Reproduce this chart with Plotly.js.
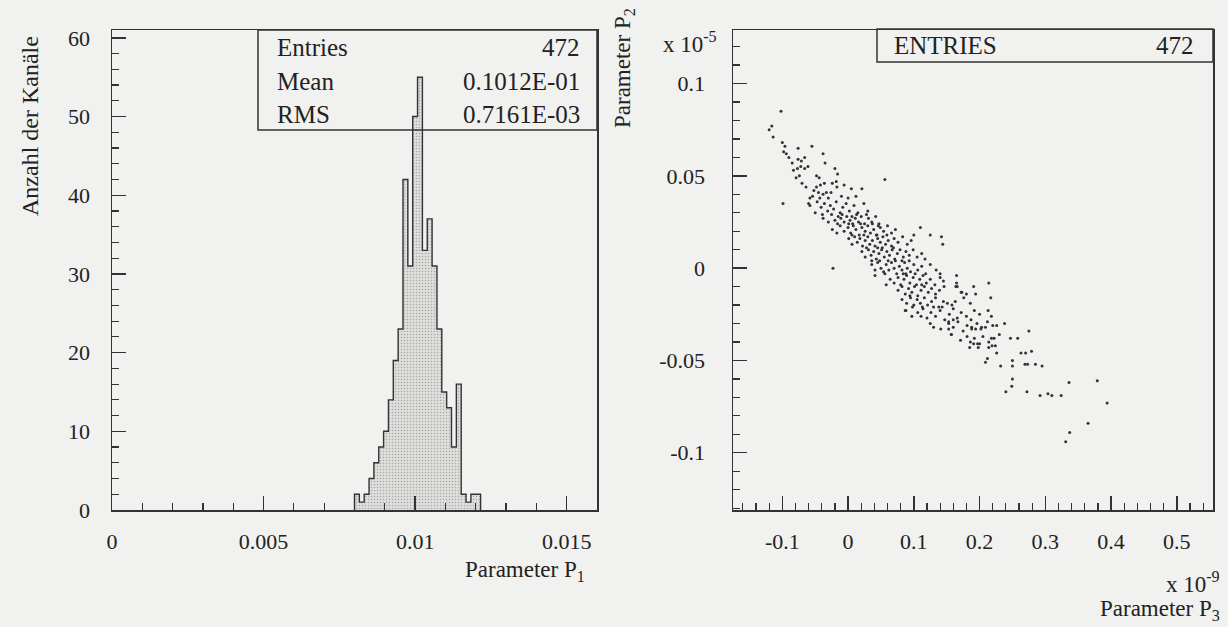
<!DOCTYPE html>
<html><head><meta charset="utf-8">
<script src="https://cdn.plot.ly/plotly-3.0.1.min.js"></script>
<style>html,body{margin:0;padding:0;background:#f1f1ef;}#chart{width:1228px;height:627px;}</style>
</head><body><div id="chart"></div>
<script>
// ---------- DATA ----------
// Histogram of parameter P1 (bins of width 0.00016 starting at 0.008)
const binStart = 0.008;
const binWidth = 0.00016;
const p1Counts = [2,1,2,4,6,8,10,14,19,23,42,31,50,55,33,37,31,23,15,13,8,16,2,1,2,2];
const statLabels = ['Entries','Mean','RMS'];
const statValues = ['472','0.1012E-01','0.7161E-03'];
const scatterEntries = '472';

const leftXTickVals = [0,0.005,0.01,0.015];
const leftXTickText = ['0','0.005','0.01','0.015'];
const leftYTickVals = [0,10,20,30,40,50,60];
const leftYTickText = ['0','10','20','30','40','50','60'];
const rightXTickVals = [-0.1,0,0.1,0.2,0.3,0.4,0.5];
const rightXTickText = ['-0.1','0','0.1','0.2','0.3','0.4','0.5'];
const rightYTickVals = [-0.1,-0.05,0,0.05,0.1];
const rightYTickText = ['-0.1','-0.05','0','0.05','0.1'];

// Scatter P2 (x 10^-5) vs P3 (x 10^-9), pairs [P3, P2]
const tailPts = [[-0.102,0.085],[-0.120,0.075],[-0.116,0.077],[-0.114,0.071],[-0.100,0.068],[-0.096,0.066],[-0.098,0.063],[-0.094,0.062],[-0.076,0.065],[-0.055,0.066],[-0.038,0.062],[-0.090,0.060],[-0.085,0.057],[-0.076,0.059],[-0.071,0.058],[-0.066,0.060],[-0.083,0.053],[-0.077,0.054],[-0.072,0.055],[-0.066,0.054],[-0.061,0.055],[-0.074,0.050],[-0.079,0.049],[-0.048,0.050],[-0.044,0.049],[-0.035,0.057],[-0.020,0.054],[-0.016,0.051],[-0.018,0.047],[-0.024,0.046],[-0.036,0.046],[-0.042,0.045],[-0.070,0.046],[-0.064,0.044],[-0.052,0.042],[-0.048,0.044],[-0.045,0.041],[-0.058,0.038],[-0.054,0.039],[-0.043,0.038],[-0.038,0.040],[-0.033,0.041],[-0.017,0.044],[-0.006,0.045],[0.005,0.043],[0.021,0.043],[0.056,0.048],[-0.099,0.035],[-0.060,0.035],[-0.023,0.000],[-0.030,0.038],[-0.026,0.041],[-0.010,0.039],[0.000,0.038],[0.012,0.039]];
const corePts = [
[-0.058,0.034],[-0.047,0.036],[-0.041,0.033],[-0.036,0.035],[-0.031,0.031],[-0.027,0.034],[-0.022,0.032],[-0.018,0.036],[-0.012,0.030],[-0.008,0.033],[-0.003,0.035],[0.002,0.031],[0.009,0.034],[0.015,0.030],[0.024,0.035],[-0.050,0.030],[-0.039,0.029],[-0.015,0.028],[0.006,0.028],[0.030,0.031],
[-0.038,0.027],[-0.030,0.025],[-0.025,0.029],[-0.020,0.026],[-0.016,0.024],[-0.011,0.027],[-0.006,0.025],[-0.002,0.028],[0.003,0.026],[0.007,0.024],[0.011,0.027],[0.016,0.025],[0.020,0.028],[0.025,0.024],[0.031,0.027],[0.036,0.025],[0.042,0.028],[0.047,0.024],[0.013,0.029],[-0.009,0.029],[0.028,0.029],[0.001,0.024],
[-0.024,0.021],[-0.017,0.019],[-0.012,0.023],[-0.006,0.020],[0.000,0.022],[0.004,0.019],[0.008,0.023],[0.012,0.021],[0.017,0.018],[0.021,0.022],[0.026,0.020],[0.030,0.023],[0.034,0.019],[0.039,0.021],[0.044,0.018],[0.049,0.022],[0.054,0.020],[0.060,0.023],[0.066,0.019],[0.072,0.021],[0.019,0.024],[0.037,0.024],[0.006,0.018],[0.046,0.023],[0.110,0.022],[0.100,0.018],
[0.001,0.016],[0.006,0.013],[0.010,0.017],[0.014,0.014],[0.018,0.016],[0.022,0.012],[0.026,0.015],[0.030,0.017],[0.033,0.013],[0.037,0.015],[0.041,0.012],[0.045,0.016],[0.049,0.014],[0.053,0.017],[0.057,0.013],[0.061,0.015],[0.066,0.012],[0.070,0.016],[0.076,0.014],[0.083,0.017],[0.090,0.013],[0.096,0.015],[0.024,0.018],[0.043,0.018],[0.059,0.018],[0.125,0.018],[0.142,0.017],[0.144,0.013],[0.028,0.011],[0.052,0.011],
[0.021,0.009],[0.026,0.006],[0.031,0.010],[0.035,0.007],[0.039,0.009],[0.043,0.005],[0.047,0.008],[0.051,0.010],[0.055,0.006],[0.059,0.009],[0.063,0.007],[0.067,0.010],[0.071,0.005],[0.075,0.008],[0.079,0.010],[0.084,0.006],[0.088,0.009],[0.093,0.007],[0.099,0.010],[0.105,0.006],[0.112,0.008],[0.117,0.005],[0.045,0.011],[0.061,0.004],[0.082,0.004],[0.036,0.004],[0.069,0.011],
[0.036,0.002],[0.041,-0.001],[0.045,0.003],[0.050,0.000],[0.054,-0.002],[0.058,0.002],[0.062,-0.001],[0.066,0.003],[0.070,0.000],[0.074,-0.003],[0.078,0.001],[0.082,-0.001],[0.086,0.003],[0.090,0.000],[0.095,-0.002],[0.100,0.002],[0.106,-0.001],[0.112,0.001],[0.118,-0.003],[0.125,0.002],[0.134,-0.001],[0.048,0.004],[0.072,0.004],[0.093,0.004],[0.056,-0.003],[0.088,-0.003],
[0.041,-0.004],[0.058,-0.009],[0.064,-0.006],[0.070,-0.008],[0.076,-0.005],[0.080,-0.009],[0.085,-0.006],[0.089,-0.004],[0.094,-0.008],[0.099,-0.005],[0.104,-0.009],[0.109,-0.006],[0.114,-0.004],[0.119,-0.008],[0.125,-0.006],[0.132,-0.009],[0.140,-0.005],[0.145,-0.007],[0.102,-0.003],[0.084,-0.003]];
const lowerPts = [
[0.076,-0.012],[0.082,-0.010],[0.087,-0.014],[0.092,-0.011],[0.097,-0.013],[0.101,-0.010],[0.106,-0.015],[0.111,-0.012],[0.116,-0.010],[0.122,-0.013],[0.127,-0.011],[0.133,-0.014],[0.139,-0.012],[0.146,-0.010],[0.164,-0.010],[0.172,-0.013],[0.112,-0.009],[0.094,-0.015],
[0.082,-0.017],[0.089,-0.019],[0.095,-0.016],[0.100,-0.020],[0.105,-0.017],[0.110,-0.019],[0.116,-0.016],[0.121,-0.020],[0.127,-0.018],[0.133,-0.016],[0.138,-0.021],[0.145,-0.018],[0.151,-0.019],[0.158,-0.020],[0.163,-0.018],[0.176,-0.016],[0.186,-0.019],[0.113,-0.021],[0.130,-0.021],
[0.088,-0.023],[0.097,-0.026],[0.106,-0.024],[0.114,-0.022],[0.120,-0.027],[0.126,-0.024],[0.133,-0.026],[0.140,-0.023],[0.147,-0.028],[0.154,-0.025],[0.160,-0.022],[0.166,-0.027],[0.172,-0.024],[0.180,-0.026],[0.192,-0.023],[0.200,-0.025],[0.213,-0.023],[0.143,-0.021],
[0.125,-0.030],[0.141,-0.033],[0.153,-0.030],[0.160,-0.032],[0.167,-0.029],[0.175,-0.034],[0.181,-0.031],[0.188,-0.033],[0.196,-0.030],[0.203,-0.032],[0.212,-0.029],[0.220,-0.031],[0.187,-0.028],[0.238,-0.030],
[0.157,-0.036],[0.171,-0.039],[0.181,-0.037],[0.186,-0.040],[0.192,-0.038],[0.200,-0.041],[0.205,-0.037],[0.214,-0.040],[0.222,-0.038],[0.230,-0.036],[0.219,-0.042],[0.198,-0.043]];
const outlierPts = [[0.247,-0.038],[0.258,-0.038],[0.275,-0.034],[0.263,-0.046],[0.270,-0.046],[0.279,-0.045],[0.250,-0.050],[0.250,-0.053],[0.269,-0.052],[0.273,-0.052],[0.285,-0.052],[0.295,-0.053],[0.250,-0.060],[0.249,-0.064],[0.240,-0.067],[0.272,-0.067],[0.292,-0.069],[0.304,-0.068],[0.310,-0.069],[0.324,-0.069],[0.336,-0.062],[0.379,-0.061],[0.394,-0.073],[0.365,-0.084],[0.337,-0.089],[0.331,-0.094],
[0.185,-0.043],[0.191,-0.041],[0.197,-0.041],[0.188,-0.032],[0.194,-0.033],[0.202,-0.033],[0.209,-0.032],[0.214,-0.008],[0.217,-0.016],[0.218,-0.026],[0.226,-0.031],[0.218,-0.038],[0.214,-0.043],[0.224,-0.042],[0.209,-0.051],[0.212,-0.049],[0.226,-0.046],[0.232,-0.053],
[0.165,-0.004],[0.165,-0.008],[0.166,-0.010],[0.173,-0.013],[0.180,-0.014],[0.191,-0.010],[0.194,-0.014],[0.140,-0.003],[0.130,-0.032],[0.153,-0.029],[0.160,-0.028],[0.153,-0.033],[0.157,-0.036],[0.087,-0.023],[0.098,-0.021],[0.111,-0.026]];

// ---------- BUILD ----------
const W = 1228, H = 627;
const fx = p => p / W;
const fy = p => 1 - p / H;
const FONT = 'Liberation Serif, Times New Roman, serif';
const INK = '#222';

const edges = [binStart];
const hy = [0];
p1Counts.forEach((c, i) => { edges.push(binStart + i * binWidth); hy.push(c); });
edges.push(binStart + p1Counts.length * binWidth); hy.push(0);

const allPts = tailPts.concat(corePts, lowerPts, outlierPts);

const traces = [
  {type:'scatter', mode:'lines', x:edges, y:hy, xaxis:'x', yaxis:'y',
   line:{shape:'hv', color:'#333', width:1.4}, fill:'tozeroy', fillcolor:'#d6d6d4',
   fillpattern:{shape:'.', fgcolor:'#a8a8a6', bgcolor:'#dededc', size:3, solidity:0.2},
   hoverinfo:'skip'},
  {type:'scatter', mode:'markers', x:allPts.map(p=>p[0]), y:allPts.map(p=>p[1]), xaxis:'x2', yaxis:'y2',
   marker:{size:3, color:'#333'}, hoverinfo:'skip'}
];

const axBase = {showline:true, mirror:true, linecolor:'#333', linewidth:1.5, showgrid:false, zeroline:false,
  ticks:'inside', tickcolor:'#333', tickwidth:1.4, ticklen:14, tickmode:'array',
  tickfont:{family:FONT, size:22, color:INK}};

const yDom = [fy(510), fy(30)];
const layout = {
  width:W, height:H, margin:{l:0,r:0,t:0,b:0},
  paper_bgcolor:'#f1f1ef', plot_bgcolor:'rgba(0,0,0,0)', showlegend:false,
  xaxis: Object.assign({}, axBase, {domain:[fx(112), fx(597)], range:[0,0.016],
     tickvals:leftXTickVals, ticktext:leftXTickText, ticklabelstandoff:11,
     minor:{dtick:0.001, tick0:0, ticks:'inside', ticklen:7, tickcolor:'#333', tickwidth:1.2}}),
  yaxis: Object.assign({}, axBase, {domain:yDom, range:[0,61],
     tickvals:leftYTickVals, ticktext:leftYTickText, ticklabelstandoff:16,
     minor:{dtick:2, tick0:0, ticks:'inside', ticklen:7, tickcolor:'#333', tickwidth:1.2}}),
  xaxis2: Object.assign({}, axBase, {domain:[fx(733), fx(1213)], range:[-0.175,0.555], anchor:'y2',
     tickvals:rightXTickVals, ticktext:rightXTickText, ticklabelstandoff:11,
     minor:{dtick:0.02, tick0:0, ticks:'inside', ticklen:7, tickcolor:'#333', tickwidth:1.2}}),
  yaxis2: Object.assign({}, axBase, {domain:yDom, range:[-0.131,0.129], anchor:'x2',
     tickvals:rightYTickVals, ticktext:rightYTickText, ticklabelstandoff:22,
     minor:{dtick:0.01, tick0:0, ticks:'inside', ticklen:7, tickcolor:'#333', tickwidth:1.2}}),
  shapes:[
    {type:'rect', xref:'paper', yref:'paper', x0:fx(258), x1:fx(597), y0:fy(130), y1:fy(30), line:{color:'#333', width:1.5}, layer:'above'},
    {type:'rect', xref:'paper', yref:'paper', x0:fx(877), x1:fx(1213), y0:fy(62), y1:fy(29), line:{color:'#333', width:1.5}, layer:'above'}
  ],
  annotations:[]
};

const ann = (text, x, y, size, opts) => Object.assign({text:text, xref:'paper', yref:'paper', x:fx(x), y:fy(y),
  showarrow:false, xanchor:'left', yanchor:'middle', font:{family:FONT, size:size, color:INK}}, opts || {});

// stats box
statLabels.forEach((s, i) => {
  const y = [47, 81, 114][i];
  layout.annotations.push(ann(s, 275, y, 25));
  layout.annotations.push(ann(statValues[i], 582, y, 25, {xanchor:'right'}));
});
layout.annotations.push(ann('ENTRIES', 892, 45, 25));
layout.annotations.push(ann(scatterEntries, 1196, 45, 25, {xanchor:'right'}));

// axis titles
layout.annotations.push(ann('Anzahl der Kanäle', 30, 126, 24, {xanchor:'center', textangle:-90}));
layout.annotations.push(ann('Parameter P<sub>1</sub>', 587, 571, 23, {xanchor:'right'}));
layout.annotations.push(ann('Parameter P<sub>2</sub>', 624, 68, 23, {xanchor:'center', textangle:-90}));
layout.annotations.push(ann('x 10<sup>-5</sup>', 661, 42, 23));
layout.annotations.push(ann('x 10<sup>-9</sup>', 1222, 582, 23, {xanchor:'right'}));
layout.annotations.push(ann('Parameter P<sub>3</sub>', 1222, 610, 23, {xanchor:'right'}));

Plotly.newPlot('chart', traces, layout, {staticPlot:true, displayModeBar:false});
</script></body></html>
